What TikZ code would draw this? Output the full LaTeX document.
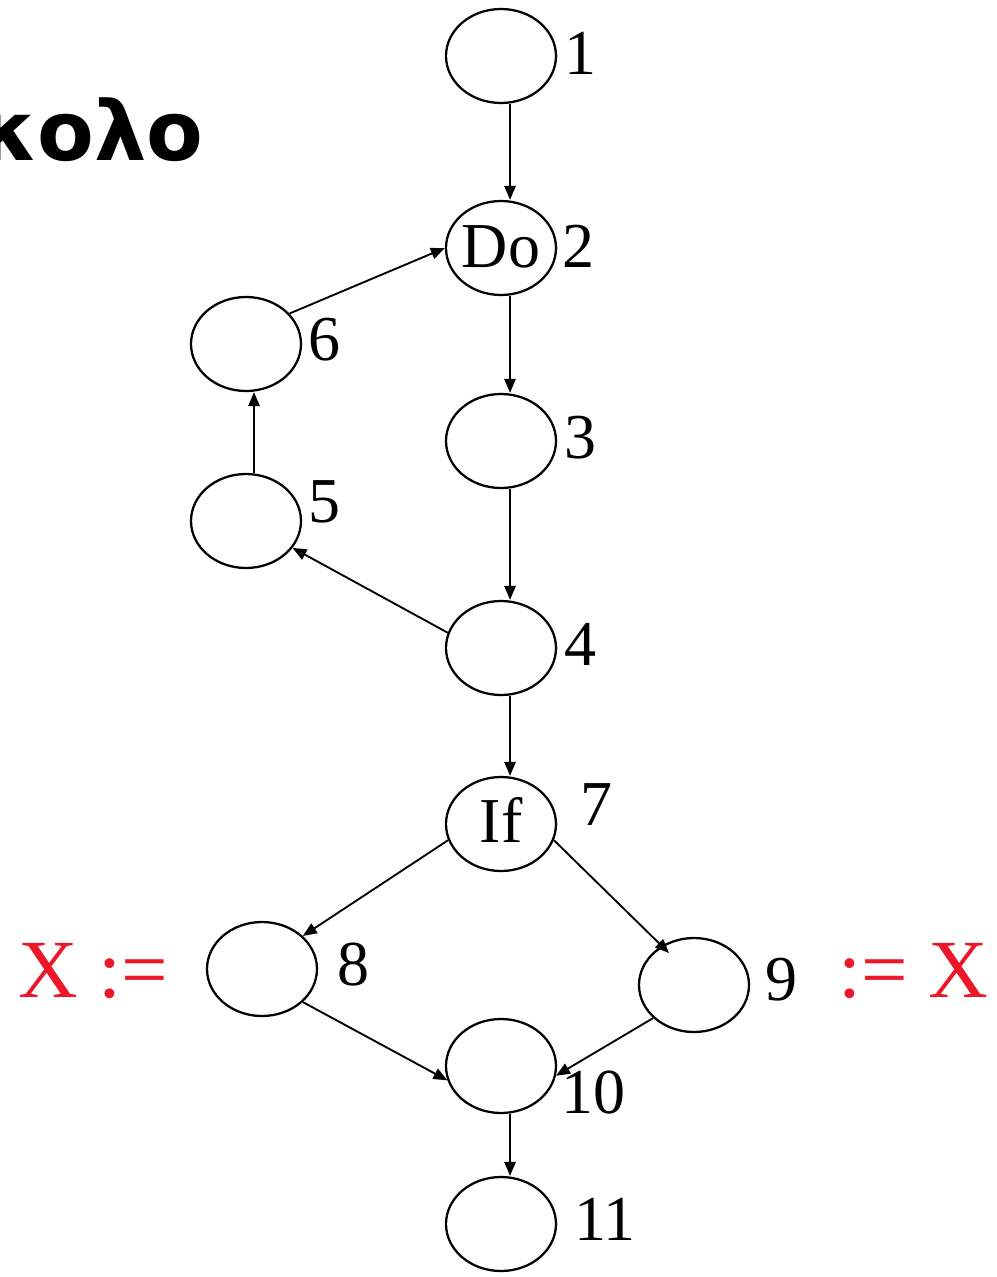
\documentclass[tikz,border=0pt]{standalone}
\usepackage{fontspec}
\setmainfont{Liberation Serif}
\newfontfamily\titlefont{DejaVu Sans}
\usetikzlibrary{shapes.geometric,arrows.meta,calc}
\definecolor{xred}{RGB}{236,24,42}
\tikzset{
  blob/.style={ellipse, draw, line width=1.7pt, minimum width=82.5pt, minimum height=70.5pt, inner sep=0pt},
  num/.style={anchor=base, inner sep=0pt, font=\fontsize{48}{50}\selectfont},
  intext/.style={anchor=base, inner sep=0pt, font=\fontsize{48}{50}\selectfont},
  redtext/.style={anchor=base, inner sep=0pt, text=xred, font=\fontsize{62}{64}\selectfont},
  flow/.style={line width=1.4pt, -{Triangle[length=10.5pt,width=8.5pt]}},
}
\begin{document}
\begin{tikzpicture}[x=0.75pt,y=-0.75pt]
\useasboundingbox (0,0) rectangle (996,1277);
\clip (0,0) rectangle (996,1277);
% title fragment
\node[anchor=base east, inner sep=0pt, font=\titlefont\bfseries\fontsize{62}{64}\selectfont] (title) at (204,161) {κολο};
% nodes
\node[blob] (n1) at (501,56) {};
\node[blob] (n2) at (501,248) {};
\node[blob] (n3) at (501,441) {};
\node[blob] (n4) at (501,648) {};
\node[blob] (n5) at (246,521) {};
\node[blob] (n6) at (246,344) {};
\node[blob] (n7) at (501,824) {};
\node[blob] (n8) at (262,969) {};
\node[blob] (n9) at (694,985) {};
\node[blob] (n10) at (501,1066) {};
\node[blob] (n11) at (501,1224) {};
\node[intext] (do) at (501,267) {Do};
\node[intext] (if) at (501,842) {If};
% numbers
\node[num] (l1) at (580,75) {1};
\node[num] (l2) at (578,267) {2};
\node[num] (l3) at (580,458) {3};
\node[num] (l4) at (580,665) {4};
\node[num] (l5) at (324,522) {5};
\node[num] (l6) at (324,360) {6};
\node[num] (l7) at (596,825) {7};
\node[num] (l8) at (353,985) {8};
\node[num] (l9) at (781,1000) {9};
\node[num] (l10) at (593,1113) {10};
\node[num] (l11) at (605,1240) {11};
% red assignments
\node[redtext] (xl) at (93,997) {X :=};
\node[redtext] (xr) at (913,997) {:= X};
% connectors
\draw[flow] ($(n1.south)+(9,0)$) -- ($(n2.north)+(9,0)$);
\draw[flow] ($(n2.south)+(9,0)$) -- ($(n3.north)+(9,0)$);
\draw[flow] ($(n3.south)+(9,0)$) -- ($(n4.north)+(9,0)$);
\draw[flow] ($(n4.south)+(9,0)$) -- ($(n7.north)+(9,0)$);
\draw[flow] ($(n10.south)+(9,0)$) -- ($(n11.north)+(9,0)$);
\draw[flow] ($(n5.north)+(8,0)$) -- ($(n6.south)+(8,0)$);
\draw[flow] (n6.35) -- (n2.180);
\draw[flow] (n4.164) -- (n5.-30);
\draw[flow] (n7.197) -- (n8.39);
\coordinate (t9) at ($(n9)+(-25,-32)$);
\draw[flow] (n7.-17) -- (t9);
\draw[flow] (n8.-39) -- (n10.-165);
\draw[flow] (n9.-141) -- (n10.-10);
\end{tikzpicture}
\end{document}
